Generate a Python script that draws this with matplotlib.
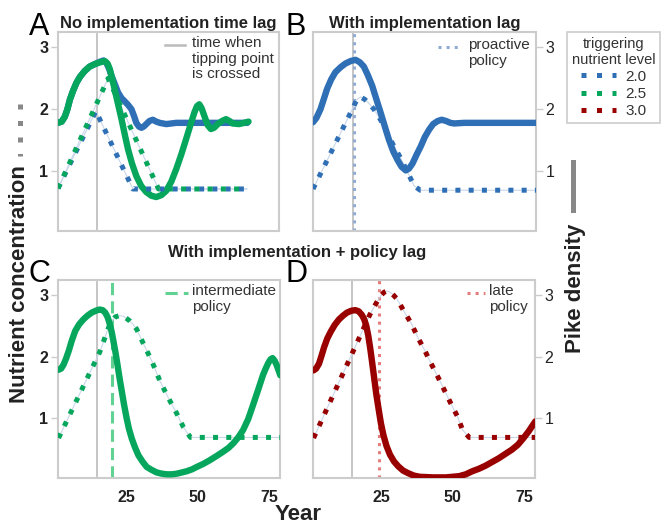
import matplotlib.pyplot as plt
from matplotlib.lines import Line2D

plt.rcParams['font.family'] = ['Liberation Sans', 'DejaVu Sans']

# ---- data ----
# panel A: no implementation time lag
a_blue_pike_year = [1.2, 2.5, 3.6, 4.5, 5.4, 6.5, 7.7, 9.0, 10.6, 12.3, 14.1, 16.0, 17.2, 18.2,
                    19.1, 20.0, 21.2, 22.3, 23.5, 24.6, 25.8, 27.0, 27.9, 28.7, 29.6, 30.5, 31.3,
                    32.2, 33.3, 34.5, 35.7, 36.9, 39.2, 41.0, 42.7, 67.7]
a_blue_pike = [1.78, 1.80, 1.88, 2.0, 2.16, 2.30, 2.43, 2.53, 2.62, 2.69, 2.73, 2.77, 2.79, 2.75,
               2.66, 2.54, 2.40, 2.27, 2.18, 2.13, 2.07, 2.0, 1.89, 1.78, 1.72, 1.70, 1.72,
               1.76, 1.81, 1.83, 1.80, 1.78, 1.76, 1.77, 1.78, 1.78]
a_blue_nut_year = [1.2, 14.5, 27.5, 67.5]
a_blue_nut = [0.72, 1.97, 0.71, 0.71]

a_green_pike_year = [1.2, 2.5, 3.6, 4.5, 5.4, 6.5, 7.7, 9.0, 10.6, 12.3, 14.1, 16.0, 17.6, 18.6,
                     19.4, 20.2, 21.1, 22.3, 23.5, 24.7, 25.8, 27.2, 28.7, 30.4, 32.2, 34.0, 35.7,
                     37.5, 39.2, 41.0, 42.7, 44.5, 46.2, 47.8, 49.1, 50.0, 50.8, 51.6, 52.6, 53.8,
                     54.9, 56.0, 57.3, 58.8, 60.2, 61.4, 62.5, 64.8, 66.5, 68.1]
a_green_pike = [1.78, 1.80, 1.88, 2.0, 2.16, 2.30, 2.43, 2.53, 2.62, 2.69, 2.73, 2.76, 2.78, 2.74,
                2.65, 2.50, 2.32, 2.08, 1.84, 1.58, 1.35, 1.12, 0.92, 0.76, 0.66, 0.60, 0.58,
                0.61, 0.68, 0.83, 1.03, 1.27, 1.52, 1.76, 1.95, 2.05, 2.08, 2.02, 1.89, 1.74,
                1.68, 1.70, 1.76, 1.81, 1.84, 1.81, 1.77, 1.76, 1.78, 1.80]
a_green_nut_year = [1.2, 18.8, 36.5, 67.5]
a_green_nut = [0.72, 2.5, 0.71, 0.71]

# panel B: with implementation lag
b_pike_year = [1.2, 2.4, 3.8, 5.0, 6.1, 7.5, 9.0, 10.8, 12.5, 14.3, 16.0, 17.5, 18.9, 20.3, 21.8,
               23.2, 24.7, 26.2, 27.6, 29.1, 30.6, 32.0, 33.5, 34.6, 35.8, 37.2, 38.7, 40.1, 41.6,
               43.0, 44.6, 46.0, 47.5, 49.0, 50.4, 52.0, 53.9, 78.9]
b_pike = [1.79, 1.86, 2.0, 2.17, 2.33, 2.48, 2.6, 2.68, 2.74, 2.78, 2.80, 2.76, 2.69, 2.55, 2.38,
          2.17, 1.95, 1.72, 1.51, 1.32, 1.18, 1.07, 1.01, 1.04, 1.12, 1.26, 1.40, 1.55, 1.67,
          1.76, 1.81, 1.83, 1.81, 1.78, 1.77, 1.775, 1.78, 1.78]
b_nut_year = [1.2, 15.4, 16.4, 17.7, 19.2, 20.6, 22.4, 24.7, 27.0, 29.4, 31.7, 33.5, 36.4, 38.5,
              78.9]
b_nut = [0.71, 2.05, 2.15, 2.2, 2.16, 2.1, 2.0, 1.83, 1.61, 1.4, 1.21, 1.04, 0.76, 0.69, 0.69]

# panel C: implementation + intermediate policy lag
c_pike_year = [1.4, 2.3, 3.1, 4.0, 4.9, 6.0, 7.2, 8.6, 10.1, 11.5, 13.0, 14.4, 15.7, 16.8, 17.7,
               18.5, 19.2, 19.9, 20.6, 21.3, 22.0, 22.7, 23.5, 24.3, 25.2, 26.0, 27.0, 28.1, 29.3,
               30.7, 32.2, 34.0, 35.7, 37.5, 39.2, 41.0, 42.7, 44.5, 46.2, 48.0, 49.7, 52.0, 54.3,
               56.7, 59.0, 60.8, 62.4, 64.2, 65.9, 67.7, 69.4, 71.2, 72.9, 73.9, 74.7, 75.5, 76.2,
               76.9, 77.6, 78.3, 78.9]
c_pike = [1.79, 1.81, 1.87, 1.97, 2.09, 2.26, 2.42, 2.53, 2.61, 2.67, 2.72, 2.75, 2.77, 2.76, 2.72,
          2.65, 2.55, 2.42, 2.25, 2.07, 1.87, 1.66, 1.44, 1.22, 1.0, 0.83, 0.67, 0.53, 0.40,
          0.30, 0.21, 0.16, 0.12, 0.10, 0.09, 0.09, 0.10, 0.12, 0.14, 0.17, 0.21, 0.26, 0.32,
          0.39, 0.46, 0.52, 0.59, 0.69, 0.81, 0.99, 1.22, 1.47, 1.71, 1.82, 1.90, 1.96, 1.98,
          1.94, 1.87, 1.78, 1.70]
c_nut_year = [1.4, 15.9, 18.8, 20.0, 21.2, 22.6, 24.1, 25.3, 26.4, 27.6, 28.7, 31.0, 34.0, 36.9,
              39.8, 42.7, 45.0, 47.5, 78.9]
c_nut = [0.68, 2.09, 2.47, 2.58, 2.65, 2.67, 2.66, 2.62, 2.58, 2.52, 2.45, 2.22, 1.93, 1.60,
         1.33, 1.08, 0.86, 0.69, 0.69]

# panel D: implementation + late policy lag
d_pike_year = [1.4, 2.3, 3.3, 4.2, 5.1, 6.2, 7.4, 8.8, 10.3, 11.7, 13.1, 14.6, 16.0, 17.2, 18.3,
               19.1, 19.8, 20.5, 21.2, 21.9, 22.6, 23.3, 24.1, 24.9, 25.8, 26.9, 28.1, 29.5, 31.0,
               32.7, 34.4, 36.4, 38.5, 43.1, 47.7, 50.0, 52.3, 54.6, 56.9, 59.2, 61.5, 63.8, 66.1,
               68.4, 70.7, 72.8, 74.8, 76.6, 78.9]
d_pike = [1.78, 1.81, 1.89, 2.02, 2.16, 2.30, 2.41, 2.52, 2.61, 2.67, 2.72, 2.75, 2.76, 2.74, 2.68,
          2.61, 2.51, 2.35, 2.14, 1.90, 1.65, 1.40, 1.16, 0.93, 0.73, 0.55, 0.41, 0.30, 0.22,
          0.15, 0.11, 0.07, 0.05, 0.04, 0.04, 0.05, 0.06, 0.09, 0.14, 0.18, 0.23, 0.29, 0.35,
          0.42, 0.49, 0.57, 0.68, 0.79, 0.95]
d_nut_year = [1.4, 21.0, 23.5, 24.8, 26.0, 27.0, 28.2, 29.4, 30.4, 31.7, 33.0, 35.6, 37.9, 40.2,
              42.5, 44.8, 47.1, 49.4, 51.7, 53.5, 55.8, 78.9]
d_nut = [0.68, 2.68, 2.89, 2.99, 3.05, 3.07, 3.05, 3.0, 2.95, 2.85, 2.74, 2.54, 2.31, 2.11,
         1.89, 1.68, 1.46, 1.24, 1.03, 0.81, 0.69, 0.69]

tipping_year = 15
policy_year_b = 15.4
policy_year_c = 20
policy_year_d = 24.2
levels = ['2.0', '2.5', '3.0']

blue = '#2f6fb5'
green = '#06a75d'
red = '#990000'
lightblue = '#91abd2'
lightgreen = '#62d292'
lightred = '#e57c7c'
txt = '#222222'

W, H = 667, 525
fig = plt.figure(figsize=(W / 100, H / 100), dpi=100)


def box(x0, y0, x1, y1):
    return [x0 / W, 1 - y1 / H, (x1 - x0) / W, (y1 - y0) / H]


axA = fig.add_axes(box(58, 32, 279, 231))
axB = fig.add_axes(box(313, 32, 536, 231))
axC = fig.add_axes(box(58, 280, 280, 478))
axD = fig.add_axes(box(313, 280, 535, 478))


def dotted(ax, x, y, c):
    ax.plot(x, y, color='#c9d6ea', lw=0.8, zorder=2)
    ax.plot(x, y, color=c, lw=3.6, linestyle=':', zorder=4)


def solid(ax, x, y, c):
    ax.plot(x, y, color=c, lw=4.6, solid_capstyle='round', solid_joinstyle='round', zorder=3)


for ax in [axA, axB, axC, axD]:
    ax.set_xlim(1.2, 78.8)
    ax.set_ylim(0.03, 3.25)
    for s in ax.spines.values():
        s.set_color('#cccccc')
        s.set_linewidth(1.5)
    ax.set_yticks([1, 2, 3])
    ax.set_xticks([25, 50, 75])
    ax.tick_params(axis='y', length=5, width=1, color='#cccccc', labelsize=11.5, pad=2,
                   labelcolor=txt)
    ax.tick_params(axis='x', length=0, labelsize=11.5, pad=9, labelcolor=txt)
    for lab in ax.get_xticklabels() + ax.get_yticklabels():
        lab.set_fontweight('bold')
    ax.axvline(tipping_year, color='#bbbbbb', lw=1.2, zorder=1)

for ax in [axA, axB]:
    ax.tick_params(axis='x', labelbottom=False)
for ax in [axB, axD]:
    ax.yaxis.tick_right()

# panel A
solid(axA, a_blue_pike_year, a_blue_pike, blue)
dotted(axA, a_blue_nut_year, a_blue_nut, blue)
solid(axA, a_green_pike_year, a_green_pike, green)
dotted(axA, a_green_nut_year, a_green_nut, green)

# panel B
axB.axvline(policy_year_b, color=lightblue, lw=2.2, linestyle=':', zorder=2)
solid(axB, b_pike_year, b_pike, blue)
dotted(axB, b_nut_year, b_nut, blue)

# panel C
axC.axvline(policy_year_c, color=lightgreen, lw=2.2, linestyle='--', dashes=(4, 2), zorder=2)
solid(axC, c_pike_year, c_pike, green)
dotted(axC, c_nut_year, c_nut, green)

# panel D
axD.axvline(policy_year_d, ymax=1.01, color=lightred, lw=2.2, linestyle=':', zorder=2,
            clip_on=False)
solid(axD, d_pike_year, d_pike, red)
dotted(axD, d_nut_year, d_nut, red)


# in-panel legends
def mini_legend(ax, x0, x1, y, text_x, label, **kw):
    ax.plot([x0, x1], [y, y], transform=ax.transAxes, clip_on=False, **kw)
    ax.text(text_x, y + 0.045, label, transform=ax.transAxes, fontsize=11, color='#333333',
            va='top', ha='left', linespacing=1.15)


mini_legend(axA, 0.484, 0.575, 0.935, 0.606, 'time when\ntipping point\nis crossed',
            color='#bbbbbb', lw=1.8)
mini_legend(axB, 0.56, 0.659, 0.925, 0.695, 'proactive\npolicy',
            color=lightblue, lw=2.2, linestyle=':')
mini_legend(axC, 0.482, 0.586, 0.934, 0.604, 'intermediate\npolicy',
            color=lightgreen, lw=2.2, linestyle='--', dashes=(4, 2))
mini_legend(axD, 0.694, 0.775, 0.934, 0.793, 'late\npolicy',
            color=lightred, lw=2.2, linestyle=':')

# titles
axA.set_title('No implementation time lag', fontsize=12, fontweight='bold', color=txt, pad=3)
axB.set_title('With implementation lag', fontsize=12, fontweight='bold', color=txt, pad=3)
fig.text(297 / W, 1 - 253 / H, 'With implementation + policy lag', fontsize=12,
         fontweight='bold', color=txt, ha='center', va='center')

# panel letters
for letter, x, y in [('A', 29, 35), ('B', 286, 35), ('C', 29, 282), ('D', 286, 282)]:
    fig.text(x / W, 1 - y / H, letter, fontsize=22, color='black', ha='left', va='baseline')

# axis labels with line-style keys
fig.text(20 / W, 1 - 284 / H, 'Nutrient concentration', rotation=90, fontsize=16,
         fontweight='bold', color=txt, ha='center', va='center')
fig.add_artist(Line2D([20 / W, 20 / W], [1 - 104 / H, 1 - 156 / H], transform=fig.transFigure,
                      color='#888888', lw=3.6, dashes=(1, 2.3)))
fig.text(575 / W, 1 - 288 / H, 'Pike density', rotation=90, fontsize=16, fontweight='bold',
         color=txt, ha='center', va='center')
fig.add_artist(Line2D([573 / W, 573 / W], [1 - 162 / H, 1 - 210 / H], transform=fig.transFigure,
                      color='#888888', lw=3.6))
fig.text(298 / W, 1 - 515 / H, 'Year', fontsize=16, fontweight='bold', color=txt,
         ha='center', va='center')

# legend for triggering level
handles = [Line2D([], [], color=c, lw=3.6, dashes=(1, 2.1)) for c in [blue, green, red]]
leg = fig.legend(handles, levels, title='triggering\nnutrient level', loc='upper left',
                 bbox_to_anchor=(567 / W, 1 - 32 / H), borderaxespad=0, fontsize=11,
                 title_fontsize=10.5, handlelength=2.3, handletextpad=0.6, labelspacing=0.2,
                 borderpad=0.3, fancybox=False, framealpha=1)
leg.get_frame().set_edgecolor('#cccccc')
leg.get_frame().set_linewidth(1.2)
leg.get_title().set_multialignment('center')
leg.get_title().set_color('#333333')
for t in leg.get_texts():
    t.set_color('#333333')

fig.savefig('out.png', dpi=100)
